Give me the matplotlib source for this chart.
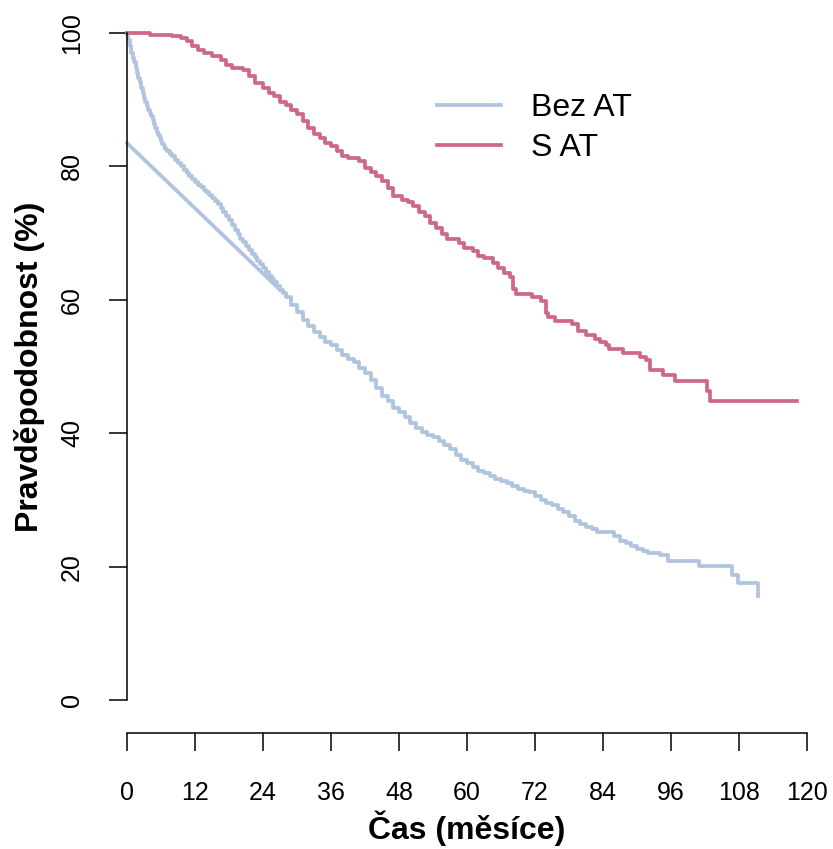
# Kaplan-Meier style survival curves: Bez AT vs S AT.

import numpy as np
from matplotlib import pyplot as plt

plt.rcParams["font.family"] = ["Liberation Sans", "DejaVu Sans"]

# step times (months) and survival (%)
bez_t = [0, 0.25, 0.5, 0.75, 1, 1.25, 1.5, 1.75, 2, 2.25, 2.5, 2.75, 3,
         3.25, 3.5, 3.75, 4, 4.25, 4.5, 4.75, 5, 5.25, 5.5, 5.75, 6, 6.25,
         6.5, 6.75, 7, 7.5, 8, 8.5, 9, 9.5, 10, 10.5, 11, 11.5, 12, 12.5, 13,
         13.5, 14, 14.5, 15, 15.5, 16, 16.5, 17, 17.5, 18, 18.5, 19, 19.5, 20,
         20.5, 21, 21.5, 22, 22.5, 23, 23.5, 24, 24.5, 25, 25.5, 26, 26.5, 27,
         27.5, 28, 29, 30, 31, 32, 33, 34, 35, 36, 37,
         38, 39, 40, 41, 42, 43, 44, 45, 46, 47, 48, 49, 50, 51, 52, 53, 54,
         55, 56, 57, 58, 59, 60, 61, 62, 63, 64, 65, 66, 67, 68, 69, 70, 71,
         72, 73, 74, 75, 76, 77, 78, 79, 80, 81, 82, 83, 86, 87, 88, 89, 90,
         91, 92, 94, 95.5, 101, 106.7, 107.8, 111.4]
bez_s = [100, 99, 98, 97, 96.3, 95.6, 94.8, 94, 93.3, 92.6, 91.8, 91, 90.3,
         89.7, 89.1, 88.5, 88, 87.5, 87, 86.4, 85.8, 85.2, 84.7, 84.2, 83.8,
         83.4, 83, 82.6, 82.3, 81.9, 81.5, 81, 80.5, 80, 79.5, 79, 78.6, 78.1,
         77.6, 77.2, 76.9, 76.5, 76.1, 75.7, 75.2, 74.8, 74.3, 73.8, 73.2,
         72.6, 71.9, 71.2, 70.5, 69.8, 69.1, 68.6, 68, 67.5, 66.9, 66.4, 65.8,
         65.3, 64.7, 64.2, 63.6, 63.1, 62.6, 62, 61.5, 61, 60.4,
         59.2, 58.2, 57, 56, 55.2, 54.4, 53.7,
         53.2, 52.5, 51.8, 51.2, 50.7, 49.8, 49, 48, 46.8, 45.6, 44.8, 43.8,
         43.2, 42.4, 41.6, 40.8, 40.2, 39.8, 39.4, 38.8, 38.3, 37.6, 36.8, 36,
         35.5, 35, 34.4, 34, 33.6, 33.2, 32.8, 32.5, 32.1, 31.7, 31.4, 31.2,
         30.6, 30, 29.6, 29.2, 28.7, 28.2, 27.6, 26.8, 26.4, 26, 25.6, 25.2,
         24.6, 23.8, 23.5, 23.1, 22.7, 22.4, 22.1, 21.7, 20.8, 20.1, 18.8,
         17.6, 15.6]
# stray out-of-order record that joins the curve near 27 months
bez_stray = (0, 83.5)
bez_stray_join = 27

s_t = [0, 4, 8, 9.5, 10.5, 11.5, 12.5, 13.5, 15, 16.5, 17.5, 18.5, 20.5,
       21.5, 22.5, 24, 25, 26, 27, 28, 29, 30, 31, 32, 33, 34, 35, 36, 37,
       38, 39, 41, 42, 43, 44, 45, 46, 47, 48.5, 49.5, 50.5, 51.5, 52.5,
       53.5, 54.5, 55.5, 56.5, 58.5, 59.5, 61, 62, 63, 64.5, 65.5, 66.5,
       67.5, 68.1, 68.6, 71.5, 73, 74, 74.3, 75.5, 78.5, 79.6, 81, 82.5,
       83.5, 84.5, 85, 87.6, 90.5, 91.5, 92.3, 94.5, 96.7, 102.3, 102.9,
       118.2]
s_s = [100, 99.7, 99.5, 99.2, 98.8, 98, 97.5, 97, 96.5, 96, 95.2, 94.8,
       94.5, 93.5, 92.5, 91.8, 91, 90.5, 89.7, 89.2, 88.5, 87.8, 86.8, 85.8,
       84.8, 84.2, 83.5, 83, 82.3, 81.6, 81.2, 80.8, 79.8, 79.2, 78.5, 77.8,
       76.8, 75.6, 75, 74.6, 74, 73.2, 72.6, 71.5, 70.8, 69.8, 69.1, 68.5,
       67.8, 67.3, 66.6, 66.2, 65.5, 64.8, 64, 63.4, 61.6, 60.8, 60.4, 59.8,
       58, 57.4, 56.8, 56.3, 55.3, 54.8, 54.2, 53.7, 53.2, 52.6, 52, 51.5,
       51, 49.5, 48.8, 47.8, 46.3, 44.8, 44.8]

x_ticks = [0, 12, 24, 36, 48, 60, 72, 84, 96, 108, 120]
y_ticks = [0, 20, 40, 60, 80, 100]
labels = ["Bez AT", "S AT"]
colors = ["#B0C4DE", "#CD6889"]

W, H = 833, 849
fig = plt.figure(figsize=(W / 100, H / 100), dpi=100)
ax = fig.add_axes([127 / W, 1 - 733.35 / H, 680 / W, 727 / H])

lw = 2.7
ax.plot(bez_t, bez_s, drawstyle="steps-post", color=colors[0], lw=lw,
        label=labels[0], clip_on=False)
j = bez_t.index(bez_stray_join)
ax.plot([bez_stray[0], bez_t[j]], [bez_stray[1], bez_s[j]], color=colors[0],
        lw=lw, clip_on=False)
ax.plot(s_t, s_s, drawstyle="steps-post", color=colors[1], lw=lw,
        label=labels[1], clip_on=False)

ax.set_xlim(0, 120)
ax.set_ylim(-5, 104)
for side in ["top", "right"]:
    ax.spines[side].set_visible(False)
ax.spines["left"].set_bounds(0, 100)
ax.spines["bottom"].set_bounds(0, 120)
for sp in ["left", "bottom"]:
    ax.spines[sp].set_linewidth(1.1)

ax.set_xticks(x_ticks)
ax.set_yticks(y_ticks)
ax.set_yticklabels([str(v) for v in y_ticks], rotation=90, va="center")
ax.tick_params(axis="both", length=13, width=1.1, labelsize=18)
ax.tick_params(axis="x", pad=21)
ax.tick_params(axis="y", pad=18)

fig.text(467 / W, 1 - 828 / H, "Čas (měsíce)", ha="center", va="center",
         fontsize=23, fontweight="bold")
fig.text(30 / W, 1 - 366.5 / H, "Pravděpodobnost (%)", ha="center",
         va="center", rotation=90, fontsize=23, fontweight="bold")

ax.legend(loc="center left", bbox_to_anchor=(437 / W, 1 - 128 / H),
          bbox_transform=fig.transFigure, frameon=False, fontsize=23,
          handlelength=2.0, handletextpad=0.95, borderpad=0,
          borderaxespad=0, labelspacing=0.3)

fig.savefig("out.png", dpi=100)
